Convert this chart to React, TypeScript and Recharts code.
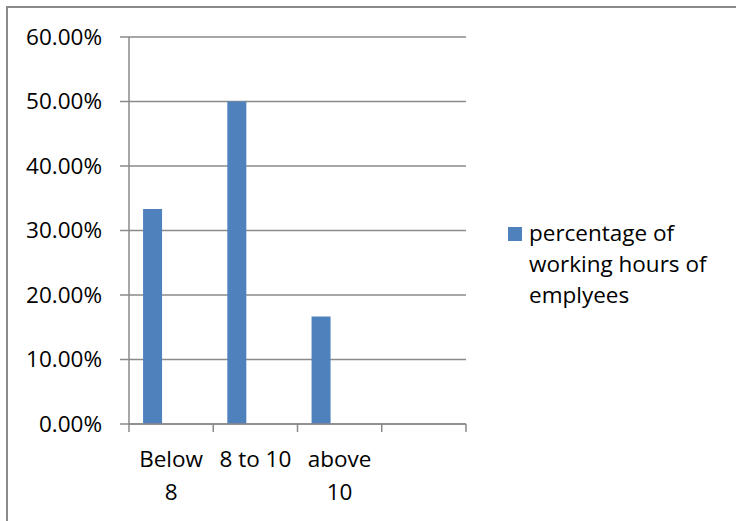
import React from 'react';
import { BarChart, Bar, XAxis, YAxis, CartesianGrid } from 'recharts';

// Working-hour bands and the share of employees in each
const categories = ['Below 8', '8 to 10', 'above 10', ''];
const workingHoursShare = [0.3333, 0.5, 0.1667, null];
// Two unused series slots keep the clustered bar spacing
const spareSeriesA = [null, null, null, null];
const spareSeriesB = [null, null, null, null];
const yTicks = [0, 0.1, 0.2, 0.3, 0.4, 0.5, 0.6];
const seriesName = 'percentage of working hours of emplyees';

const FONT = "'Open Sans', sans-serif";
const FONT_SIZE = 22.5;
const GRAY = '#8a8a8a';
const BAR_BLUE = '#4F81BD';

const data = categories.map((category, i) => ({
  category,
  share: workingHoursShare[i],
  spareA: spareSeriesA[i],
  spareB: spareSeriesB[i],
}));

const pct = (v: number) => `${(v * 100).toFixed(2)}%`;

let measureCtx: CanvasRenderingContext2D | null = null;
const textWidth = (s: string) => {
  if (!measureCtx) {
    measureCtx = document.createElement('canvas').getContext('2d');
  }
  if (!measureCtx) return s.length * FONT_SIZE * 0.55;
  measureCtx.font = `${FONT_SIZE}px ${FONT}`;
  return measureCtx.measureText(s).width;
};

// Greedy word wrap to fit a category band
const wrapWords = (label: string, maxWidth: number) => {
  const words = label.split(' ').filter(Boolean);
  const lines: string[] = [];
  let current = '';
  words.forEach((w) => {
    const trial = current ? `${current} ${w}` : w;
    if (current && textWidth(trial) > maxWidth) {
      lines.push(current);
      current = w;
    } else {
      current = trial;
    }
  });
  if (current) lines.push(current);
  return lines;
};

// Category labels wrap under the band; tick marks sit on band boundaries
const CategoryTick = (props: any) => {
  const { x, y, payload, index } = props;
  const half = payload.offset ?? 0;
  const top = y - 8;
  const lines = wrapWords(String(payload.value ?? ''), half * 2 - 6);
  return (
    <g>
      <line x1={x - half} x2={x - half} y1={top} y2={y} stroke={GRAY} strokeWidth={1.5} />
      {index === categories.length - 1 && (
        <line x1={x + half} x2={x + half} y1={top} y2={y} stroke={GRAY} strokeWidth={1.5} />
      )}
      <text x={x} y={y + 35} textAnchor="middle" fill="#000" fontFamily={FONT} fontSize={FONT_SIZE}>
        {lines.map((line, i) => (
          <tspan key={i} x={x} dy={i === 0 ? 0 : 33}>
            {line}
          </tspan>
        ))}
      </text>
    </g>
  );
};

export default function App() {
  return (
    <div
      style={{
        position: 'absolute',
        left: 0,
        top: 0,
        width: 736,
        height: 521,
        background: '#fff',
        overflow: 'hidden',
      }}
    >
      <div
        style={{
          position: 'absolute',
          left: 6,
          top: 6,
          width: 740,
          height: 530,
          borderLeft: `2px solid ${GRAY}`,
          borderTop: `2px solid ${GRAY}`,
        }}
      />
      <div style={{ position: 'absolute', left: 0, top: 0 }}>
        <BarChart
          width={736}
          height={521}
          data={data}
          margin={{ top: 37, right: 270, bottom: 0, left: 0 }}
          barCategoryGap="16.7%"
          barGap={0}
        >
          <CartesianGrid vertical={false} stroke={GRAY} strokeWidth={1.5} />
          <XAxis
            dataKey="category"
            height={97}
            axisLine={{ stroke: GRAY, strokeWidth: 1.5 }}
            tickLine={false}
            tickSize={8}
            tickMargin={0}
            interval={0}
            tick={<CategoryTick />}
          />
          <YAxis
            width={129}
            domain={[0, 0.6]}
            ticks={yTicks}
            tickFormatter={pct}
            axisLine={{ stroke: GRAY, strokeWidth: 1.5 }}
            tickLine={{ stroke: GRAY, strokeWidth: 1.5 }}
            tickSize={9}
            tickMargin={18}
            tick={{ fill: '#000', fontFamily: FONT, fontSize: FONT_SIZE }}
          />
          <Bar dataKey="share" name={seriesName} fill={BAR_BLUE} isAnimationActive={false} />
          <Bar dataKey="spareA" name="spareA" fill={BAR_BLUE} isAnimationActive={false} />
          <Bar dataKey="spareB" name="spareB" fill={BAR_BLUE} isAnimationActive={false} />
        </BarChart>
      </div>
      {/* Series key */}
      <div style={{ position: 'absolute', left: 508, top: 217, display: 'flex', alignItems: 'flex-start' }}>
        <div style={{ width: 14, height: 14, background: BAR_BLUE, marginTop: 10, flex: 'none' }} />
        <div
          style={{
            marginLeft: 7,
            width: 196,
            fontFamily: FONT,
            fontSize: FONT_SIZE,
            lineHeight: '31px',
            color: '#000',
          }}
        >
          {seriesName}
        </div>
      </div>
    </div>
  );
}
